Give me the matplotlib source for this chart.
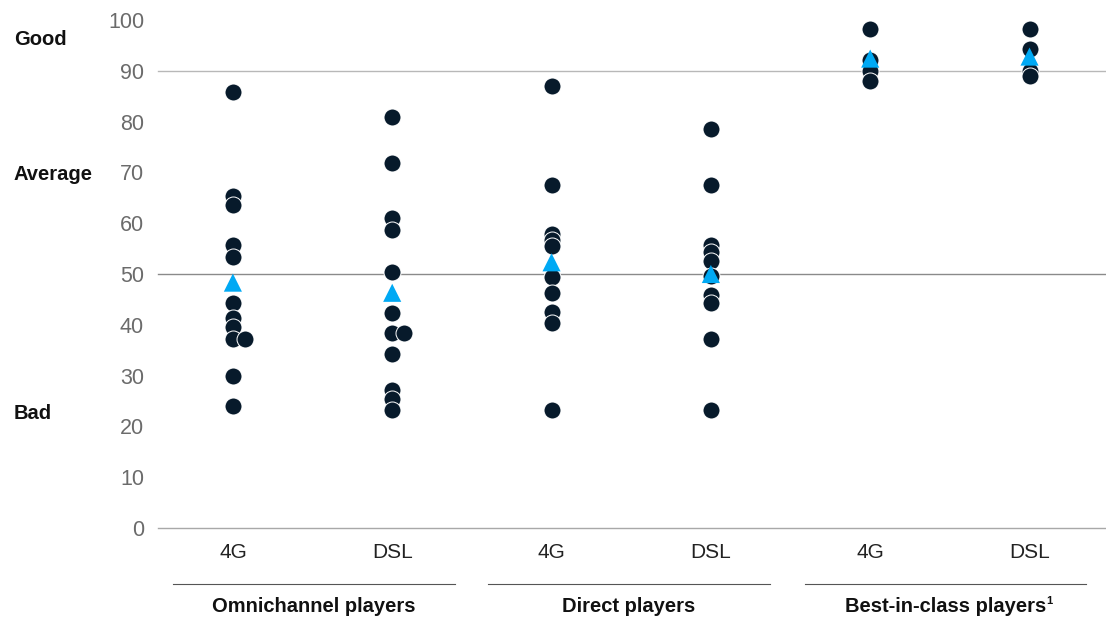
import matplotlib
matplotlib.use("Agg")
import matplotlib.pyplot as plt

plt.rcParams["font.family"] = ["Liberation Sans", "DejaVu Sans"]

categories = ["4G", "DSL", "4G", "DSL", "4G", "DSL"]
groups = ["Omnichannel players", "Direct players", "Best-in-class players"]

omni_4g = [85.9, 65.3, 63.5, 55.7, 53.4, 44.3, 41.3, 39.5, 37.3, 37.3, 29.9, 24.0]
omni_dsl = [81.0, 71.8, 61.0, 58.7, 50.3, 42.3, 38.3, 38.3, 34.3, 27.2, 25.3, 23.2]
direct_4g = [87.0, 67.5, 57.8, 56.6, 55.5, 49.5, 46.3, 42.5, 40.4, 23.2]
direct_dsl = [78.6, 67.5, 55.8, 54.4, 52.5, 49.7, 45.9, 44.3, 37.2, 23.2]
best_4g = [98.3, 92.1, 90.0, 87.9]
best_dsl = [98.3, 94.2, 90.0, 89.0]
series = [omni_4g, omni_dsl, direct_4g, direct_dsl, best_4g, best_dsl]
means = [48.3, 46.3, 52.3, 50.0, 92.4, 92.8]

yticks = [0, 10, 20, 30, 40, 50, 60, 70, 80, 90, 100]
gridlines = [0, 50, 90]
grid_colors = ["#a8a8a8", "#8a8a8a", "#b8b8b8"]
rating_labels = ["Good", "Average", "Bad"]
rating_values = [96.2, 69.6, 22.6]

DOT = "#071a2b"
TRI = "#00a9f4"
W, H = 1106, 619

fig = plt.figure(figsize=(W / 100, H / 100), dpi=100)
ax = fig.add_axes([158 / W, 1 - 528 / H, 1 - 158 / W, (528 - 20) / H])
ax.set_xlim(-0.47, 5.48)
ax.set_ylim(0, 100)

for y, c in zip(gridlines, grid_colors):
    ax.axhline(y, color=c, lw=1.0, zorder=1, clip_on=False)

for i, vals in enumerate(series):
    xs = []
    seen = []
    for v in vals:
        xs.append(i + (0.075 if v in seen else 0.0))
        seen.append(v)
    ax.scatter(xs, vals, s=150, color=DOT, edgecolor="white", linewidth=0.7, zorder=3)
    ax.scatter([i], [means[i]], marker="^", s=170, color=TRI, edgecolor="none", zorder=4)

ax.set_yticks(yticks)
ax.set_yticklabels([str(t) for t in yticks], color="#6b6b6b", fontsize=15.5)
ax.tick_params(axis="y", length=0, pad=10)
ax.set_xticks([])
for s in ax.spines.values():
    s.set_visible(False)

for i, c in enumerate(categories):
    ax.annotate(c, xy=(i, 0), xycoords="data", xytext=(0, -18), textcoords="offset points",
                ha="center", va="center", fontsize=15, color="#222222")

# group separators (layout in pixels)
group_spans = [(173, 455), (488, 770), (805, 1086)]
line_y = 1 - 584 / H
for g, (name, (p0, p1)) in enumerate(zip(groups, group_spans)):
    fig.add_artist(plt.Line2D([p0 / W, p1 / W], [line_y, line_y], color="#555555", lw=0.8))
    t = fig.text((p0 + p1) / 2 / W, 1 - 607 / H, name, ha="center", va="center", fontsize=14.5,
                 fontweight="bold", color="#111111")
    if g == 2:
        fig.canvas.draw()
        bb = t.get_window_extent()
        fig.text(bb.x1 / W, 1 - 601 / H, "1", ha="left", va="center", fontsize=8,
                 fontweight="bold", color="#111111")

for lab, v in zip(rating_labels, rating_values):
    fy = ax.transData.transform((0, v))[1] / H
    fig.text(14 / W, fy, lab, ha="left", va="center", fontsize=14.5, fontweight="bold", color="#111111")

fig.savefig("out.png", dpi=100)
